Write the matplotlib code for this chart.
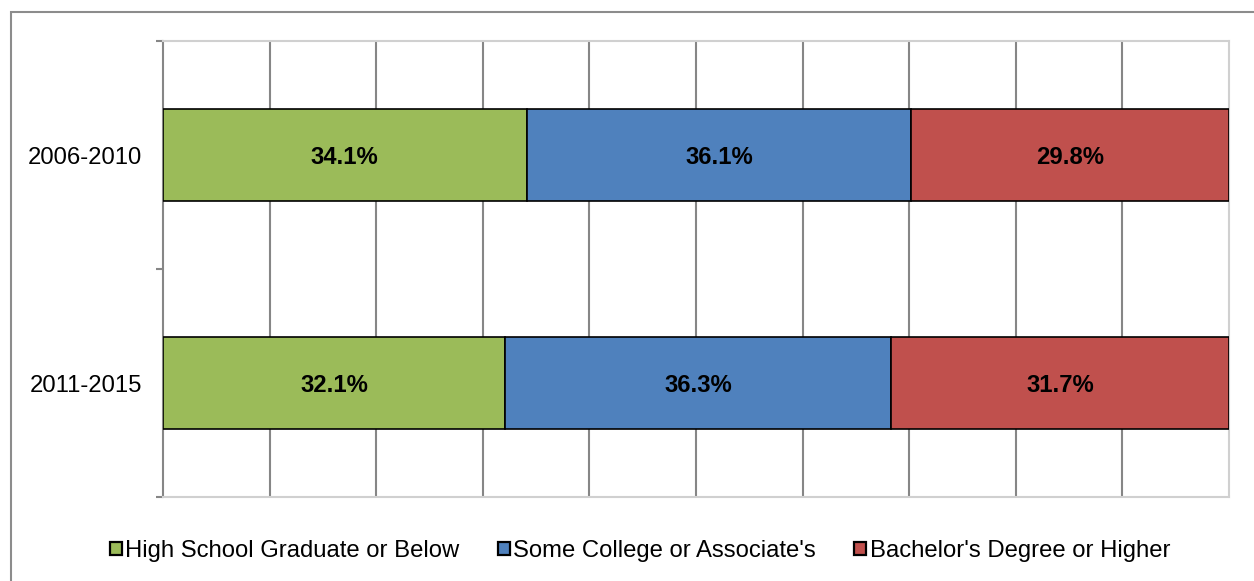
import matplotlib.pyplot as plt
import numpy as np
from matplotlib.patches import Rectangle

plt.rcParams["font.family"] = ["Liberation Sans", "DejaVu Sans"]

PERIODS = ["2006-2010", "2011-2015"]
SERIES = [
    "High School Graduate or Below",
    "Some College or Associate's",
    "Bachelor's Degree or Higher",
]
HIGH_SCHOOL = [34.1, 32.1]
SOME_COLLEGE = [36.1, 36.3]
BACHELORS = [29.8, 31.7]
COLORS = ["#9BBB59", "#4F81BD", "#C0504D"]

FONT_SIZE = 17.2
GRID_COLOR = "#868686"
LIGHT_COLOR = "#D0D0D0"

values = np.array([HIGH_SCHOOL, SOME_COLLEGE, BACHELORS])
shares = values / values.sum(axis=0) * 100
positions = np.arange(len(PERIODS))

fig = plt.figure(figsize=(12.54, 5.81), dpi=100)
ax = fig.add_axes([163 / 1254, 1 - 497 / 581, (1229 - 163) / 1254, (497 - 41) / 581])

left = np.zeros(len(PERIODS))
for share, label, value, color in zip(shares, SERIES, values, COLORS):
    ax.barh(positions, share, left=left, height=0.4, color=color,
            edgecolor="black", linewidth=1.2, label=label, zorder=3)
    for y, x0, w, v in zip(positions, left, share, value):
        ax.text(x0 + w / 2, y + 0.01, f"{v:.1f}%", ha="center", va="center",
                fontsize=FONT_SIZE, fontweight="bold", zorder=4)
    left += share

ax.set_xlim(0, 100)
ax.set_ylim(len(PERIODS) - 0.5, -0.5)
ax.set_xticks(np.arange(10, 100, 10))
ax.tick_params(axis="x", length=0, labelbottom=False)
ax.xaxis.grid(True, color=GRID_COLOR, linewidth=1.5, zorder=0)

ax.set_yticks(positions)
ax.set_yticklabels(PERIODS, fontsize=FONT_SIZE)
ax.set_yticks(np.arange(-0.5, len(PERIODS), 1.0), minor=True)
ax.tick_params(axis="y", which="major", length=0, pad=15)
ax.tick_params(axis="y", which="minor", length=5, width=1.5, color=GRID_COLOR)

ax.spines["left"].set_color(GRID_COLOR)
ax.spines["left"].set_linewidth(1.5)
for side in ["top", "right", "bottom"]:
    ax.spines[side].set_color(LIGHT_COLOR)
    ax.spines[side].set_linewidth(1.5)

legend = fig.legend(loc="center", bbox_to_anchor=(0.5 + 13 / 1254, 1 - 551 / 581),
                    ncol=3, frameon=False, fontsize=FONT_SIZE, handlelength=0.5,
                    handleheight=0.5, handletextpad=0.15, columnspacing=1.6)
for handle in legend.legend_handles:
    handle.set_linewidth(1.6)

fig.patches.append(Rectangle((11 / 1254, -0.1), 1.2, 1 - 12 / 581 + 0.1,
                             transform=fig.transFigure, fill=False,
                             edgecolor="#8C8C8C", linewidth=1.5))

fig.savefig("out.png", dpi=100)
